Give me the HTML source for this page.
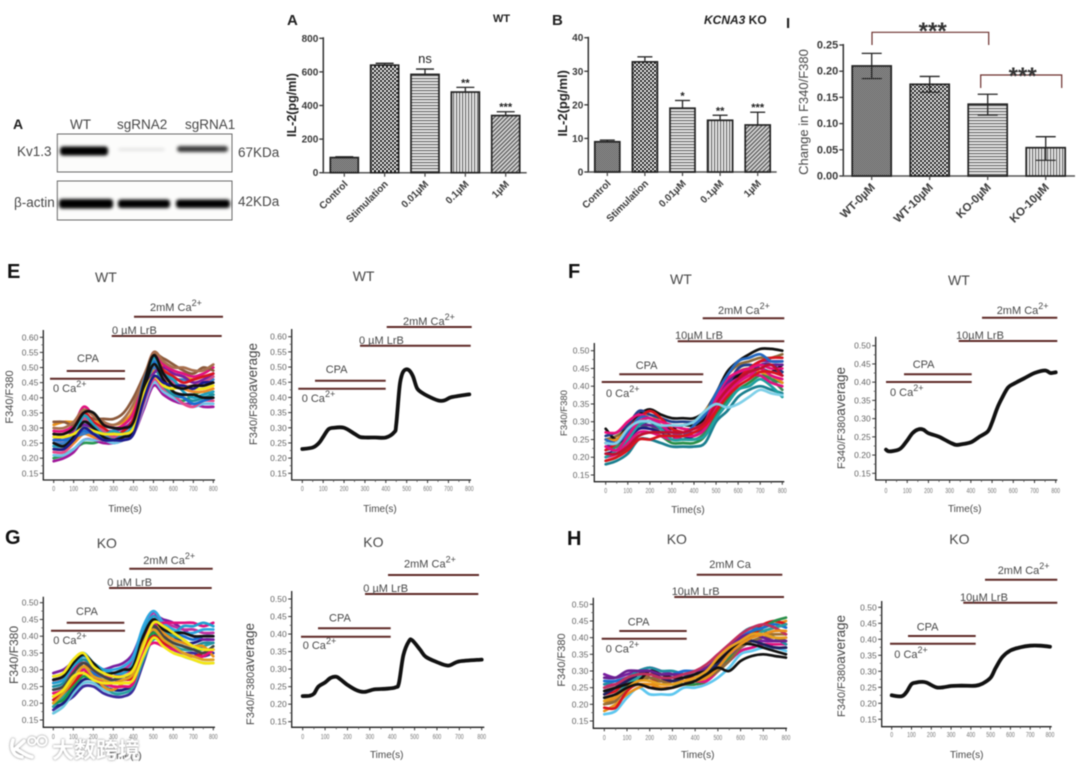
<!DOCTYPE html>
<html lang="en">
<head>
<meta charset="utf-8">
<title>Kv1.3 knockout IL-2 and calcium imaging figure</title>
<style>
html,body{margin:0;padding:0;background:#fff;width:1080px;height:768px;overflow:hidden}
#figure{display:block;width:1080px;height:768px;filter:blur(.65px);font-family:"Liberation Sans","Noto Sans CJK SC",sans-serif}
</style>
</head>
<body>
<svg id="figure" xmlns="http://www.w3.org/2000/svg" width="1080" height="768" viewBox="0 0 1080 768">
<defs>
<pattern id="p-dense" width="2" height="2" patternUnits="userSpaceOnUse"><rect width="2" height="2" fill="#b4b4b4"/><rect width="1" height="1" fill="#444"/><rect x="1" y="1" width="1" height="1" fill="#444"/></pattern>
<pattern id="p-check" width="4" height="4" patternUnits="userSpaceOnUse"><rect width="4" height="4" fill="#fff"/><rect width="2" height="2" fill="#111"/><rect x="2" y="2" width="2" height="2" fill="#111"/></pattern>
<pattern id="p-horiz" width="3" height="3" patternUnits="userSpaceOnUse"><rect width="3" height="3" fill="#eee"/><rect width="3" height="1.2" fill="#666"/></pattern>
<pattern id="p-vert" width="3" height="3" patternUnits="userSpaceOnUse"><rect width="3" height="3" fill="#f2f2f2"/><rect width="1.2" height="3" fill="#666"/></pattern>
<pattern id="p-diag" width="3" height="3" patternUnits="userSpaceOnUse" patternTransform="rotate(-45)"><rect width="3" height="3" fill="#ddd"/><rect width="3" height="1.3" fill="#555"/></pattern>
<filter id="band-blur" x="-20%" y="-100%" width="140%" height="300%"><feGaussianBlur stdDeviation="1.5"/></filter>
</defs>
</svg>
<script>
/* ---------- chart data ---------- */
const timeSeconds = [0,50,100,150,200,250,300,350,400,450,500,550,600,650,700,750,800];
const timeTicks = [0,100,200,300,400,500,600,700,800];
const ratioTicksTall = [0.15,0.20,0.25,0.30,0.35,0.40,0.45,0.50,0.55,0.60];
const ratioTicksShort = [0.15,0.20,0.25,0.30,0.35,0.40,0.45,0.50];

const tracesE = [
[.20,.21,.23,.25,.25,.26,.26,.27,.29,.40,.47,.43,.40,.39,.41,.42,.41],
[.19,.20,.22,.26,.26,.25,.25,.26,.28,.36,.44,.41,.39,.38,.38,.37,.37],
[.21,.21,.23,.26,.26,.26,.25,.26,.28,.37,.45,.42,.40,.38,.37,.38,.38],
[.22,.22,.25,.29,.27,.26,.26,.26,.28,.38,.46,.43,.41,.38,.37,.39,.39],
[.23,.23,.25,.28,.27,.27,.27,.28,.30,.42,.49,.46,.45,.43,.42,.42,.43],
[.24,.24,.26,.31,.29,.27,.26,.27,.29,.41,.50,.44,.41,.40,.39,.40,.41],
[.25,.25,.27,.28,.29,.28,.27,.29,.32,.44,.50,.47,.46,.46,.45,.44,.46],
[.31,.32,.32,.33,.33,.31,.31,.32,.36,.46,.54,.50,.48,.47,.46,.47,.47],
[.27,.26,.29,.31,.30,.29,.29,.30,.33,.42,.48,.50,.48,.47,.45,.46,.48],
[.29,.29,.31,.37,.34,.32,.30,.31,.35,.45,.55,.51,.49,.48,.47,.48,.50],
[.32,.32,.31,.34,.33,.33,.33,.35,.40,.47,.54,.53,.51,.49,.48,.50,.49],
[.30,.30,.32,.36,.34,.32,.31,.33,.38,.46,.55,.52,.50,.50,.49,.49,.51],
[.28,.28,.30,.35,.32,.30,.28,.29,.33,.44,.53,.49,.47,.45,.46,.47,.48],
[.26,.26,.28,.33,.31,.29,.27,.28,.30,.43,.52,.47,.45,.44,.44,.45,.47],
[.26,.26,.27,.29,.28,.27,.26,.28,.31,.45,.52,.46,.42,.40,.38,.39,.40],
[.24,.24,.27,.34,.31,.28,.29,.28,.31,.43,.53,.48,.46,.42,.40,.41,.42],
[.25,.24,.27,.32,.30,.27,.26,.27,.29,.42,.51,.46,.42,.41,.41,.40,.40],
[.27,.27,.28,.30,.29,.28,.28,.28,.30,.41,.47,.44,.43,.44,.43,.43,.44],
[.23,.23,.26,.30,.28,.26,.26,.26,.28,.39,.47,.45,.44,.44,.43,.45,.45],
[.28,.28,.30,.35,.35,.31,.30,.30,.32,.44,.54,.48,.44,.43,.44,.44,.45]
];
const tracesF = [
[.24,.25,.27,.30,.30,.29,.28,.27,.27,.29,.35,.40,.43,.45,.47,.47,.47],
[.25,.26,.28,.30,.30,.29,.29,.28,.28,.31,.38,.43,.46,.47,.48,.48,.49],
[.28,.25,.29,.32,.335,.32,.31,.31,.31,.33,.38,.44,.47,.49,.505,.505,.50],
[.18,.19,.21,.25,.25,.24,.23,.23,.23,.24,.30,.33,.37,.39,.40,.39,.38],
[.19,.20,.23,.26,.27,.26,.24,.24,.24,.26,.32,.36,.39,.41,.43,.42,.41],
[.22,.23,.26,.28,.29,.27,.27,.26,.25,.27,.33,.38,.41,.43,.44,.42,.39],
[.21,.22,.25,.28,.28,.27,.26,.25,.26,.28,.34,.39,.42,.44,.46,.46,.44],
[.25,.25,.28,.31,.32,.30,.29,.29,.30,.33,.37,.41,.44,.45,.44,.43,.41],
[.24,.24,.26,.29,.30,.28,.28,.29,.29,.31,.36,.41,.43,.44,.45,.44,.46],
[.26,.27,.29,.33,.32,.31,.30,.30,.30,.32,.36,.40,.45,.46,.45,.44,.44],
[.23,.24,.27,.29,.29,.28,.27,.27,.27,.29,.36,.41,.44,.45,.46,.46,.46],
[.22,.24,.28,.31,.33,.31,.28,.27,.26,.28,.33,.38,.42,.45,.47,.48,.48],
[.20,.21,.24,.27,.27,.26,.25,.26,.26,.28,.34,.38,.41,.43,.45,.43,.42],
[.27,.27,.30,.32,.31,.30,.29,.28,.28,.30,.37,.42,.44,.45,.46,.45,.45],
[.20,.22,.25,.29,.30,.28,.25,.25,.25,.26,.31,.35,.39,.40,.42,.40,.37],
[.25,.24,.27,.31,.31,.29,.27,.26,.29,.32,.38,.43,.47,.48,.49,.47,.47],
[.23,.22,.26,.30,.31,.29,.27,.27,.28,.30,.36,.40,.42,.43,.43,.41,.40],
[.19,.20,.22,.25,.25,.26,.26,.26,.27,.29,.33,.37,.40,.42,.44,.44,.43],
[.21,.21,.23,.26,.27,.27,.27,.27,.28,.30,.35,.39,.42,.44,.45,.46,.43],
[.24,.24,.28,.30,.30,.29,.29,.29,.30,.33,.35,.34,.35,.37,.39,.38,.375]
];
const tracesG = [
[.18,.20,.22,.25,.25,.23,.22,.22,.24,.32,.40,.39,.37,.35,.35,.34,.35],
[.17,.19,.23,.26,.26,.24,.23,.24,.26,.34,.41,.39,.36,.34,.33,.32,.32],
[.19,.20,.24,.27,.27,.25,.24,.24,.26,.35,.42,.41,.40,.38,.38,.39,.39],
[.19,.22,.26,.30,.28,.26,.23,.23,.25,.33,.39,.38,.37,.36,.36,.37,.38],
[.20,.21,.25,.28,.27,.26,.25,.25,.26,.36,.41,.39,.38,.37,.36,.36,.36],
[.21,.23,.26,.29,.28,.26,.26,.27,.28,.36,.40,.38,.36,.35,.34,.35,.36],
[.29,.30,.32,.31,.30,.30,.31,.32,.35,.42,.46,.45,.44,.42,.40,.39,.39],
[.27,.28,.31,.33,.31,.30,.29,.30,.33,.42,.47,.44,.43,.42,.42,.41,.41],
[.28,.29,.33,.35,.32,.30,.30,.31,.34,.43,.475,.44,.42,.41,.41,.42,.42],
[.25,.26,.30,.33,.31,.28,.27,.28,.30,.39,.44,.41,.40,.39,.37,.38,.38],
[.22,.24,.27,.31,.29,.25,.24,.26,.27,.37,.44,.41,.39,.38,.37,.37,.34],
[.24,.25,.28,.30,.29,.27,.27,.28,.30,.40,.45,.43,.41,.40,.39,.40,.40],
[.26,.27,.30,.32,.30,.28,.28,.29,.31,.40,.43,.44,.44,.44,.44,.43,.44],
[.26,.27,.31,.34,.32,.30,.29,.29,.32,.41,.46,.42,.41,.43,.43,.44,.43],
[.27,.28,.32,.345,.32,.29,.29,.30,.31,.40,.45,.42,.41,.41,.40,.40,.40],
[.24,.25,.29,.32,.30,.28,.27,.28,.29,.37,.43,.40,.38,.37,.36,.35,.37],
[.23,.24,.27,.30,.28,.26,.25,.25,.26,.35,.38,.37,.36,.35,.34,.34,.36],
[.20,.23,.27,.31,.28,.27,.26,.27,.29,.38,.42,.39,.37,.35,.34,.33,.33],
[.28,.29,.33,.35,.31,.29,.28,.28,.30,.37,.44,.43,.41,.39,.37,.36,.36],
[.22,.24,.28,.29,.27,.26,.26,.26,.27,.34,.395,.37,.35,.34,.33,.32,.32]
];
const tracesH = [
[.17,.18,.22,.25,.23,.23,.23,.25,.25,.26,.28,.31,.35,.36,.37,.37,.36],
[.18,.20,.23,.25,.26,.26,.26,.26,.26,.27,.30,.34,.38,.41,.43,.44,.45],
[.19,.19,.24,.26,.25,.25,.25,.26,.26,.27,.31,.35,.39,.42,.44,.45,.44],
[.24,.25,.27,.28,.27,.27,.26,.26,.26,.27,.30,.34,.38,.41,.43,.45,.46],
[.25,.26,.27,.28,.29,.28,.27,.27,.27,.28,.30,.33,.36,.37,.38,.37,.37],
[.29,.28,.29,.30,.31,.30,.29,.28,.29,.30,.32,.35,.37,.39,.39,.39,.40],
[.26,.26,.28,.29,.28,.28,.27,.27,.27,.27,.30,.33,.36,.37,.38,.38,.38],
[.26,.27,.28,.30,.31,.30,.30,.29,.28,.29,.33,.37,.41,.43,.42,.40,.38],
[.23,.24,.27,.29,.28,.27,.27,.28,.28,.29,.31,.35,.39,.41,.42,.43,.44],
[.27,.27,.28,.29,.30,.29,.29,.30,.30,.31,.33,.36,.40,.42,.43,.44,.43],
[.22,.23,.26,.28,.29,.28,.28,.28,.29,.29,.31,.35,.38,.40,.42,.43,.44],
[.20,.21,.25,.27,.28,.27,.26,.27,.27,.28,.30,.33,.37,.39,.40,.40,.39],
[.20,.22,.25,.27,.29,.28,.27,.27,.28,.29,.32,.36,.39,.40,.41,.41,.41],
[.23,.25,.27,.29,.30,.28,.27,.28,.29,.30,.32,.36,.39,.39,.38,.37,.37],
[.24,.25,.26,.27,.30,.29,.28,.28,.29,.31,.33,.36,.38,.38,.37,.36,.35],
[.28,.28,.30,.30,.30,.29,.29,.29,.30,.31,.34,.37,.40,.41,.40,.39,.39],
[.25,.26,.28,.29,.29,.28,.28,.29,.30,.32,.35,.38,.41,.43,.44,.43,.41],
[.21,.22,.25,.26,.26,.25,.25,.26,.27,.28,.31,.35,.38,.40,.41,.42,.42],
[.21,.23,.25,.27,.27,.26,.26,.27,.28,.30,.34,.37,.39,.41,.41,.40,.40],
[.22,.23,.25,.26,.25,.245,.25,.26,.27,.29,.31,.30,.33,.345,.35,.345,.34]
];

const averageEt = [0,50,80,100,125,150,200,250,275,300,350,400,440,450,465,475,490,510,530,550,575,600,650,680,710,750,800];
const averageEv = [.23,.235,.25,.27,.295,.30,.30,.28,.27,.268,.268,.268,.285,.31,.43,.47,.49,.49,.47,.43,.415,.405,.39,.39,.40,.405,.41];
const averageFt = [0,15,60,80,100,125,150,175,200,250,300,330,360,400,440,480,500,525,550,575,600,650,700,750,775,800];
const averageFv = [.215,.21,.215,.225,.24,.26,.27,.27,.26,.25,.235,.228,.23,.235,.25,.265,.29,.33,.36,.385,.395,.41,.425,.432,.425,.427];
const averageGt = [0,30,50,70,100,125,150,170,200,240,275,320,375,415,430,450,475,490,525,550,600,650,700,800];
const averageGv = [.223,.224,.23,.25,.262,.275,.278,.27,.255,.24,.235,.242,.244,.248,.26,.34,.38,.382,.355,.335,.32,.31,.322,.327];
const averageHt = [0,50,75,100,125,150,175,225,260,300,350,425,460,500,525,560,600,650,700,750,800];
const averageHv = [.225,.222,.235,.26,.265,.267,.265,.25,.25,.254,.255,.255,.262,.28,.31,.345,.365,.375,.38,.38,.377];

const doseCategories = ["Control","Stimulation","0.01\u00b5M","0.1\u00b5M","1\u00b5M"];
const il2WtValues = [90,640,585,480,340];
const il2WtErrorTops = [95,651,617,508,363];
const il2WtSignificance = ["","","ns","**","***"];
const il2WtTicks = [0,200,400,600,800];
const il2KoValues = [9,32.8,19,15.4,14];
const il2KoErrorTops = [9.5,34.3,21.3,16.9,17.8];
const il2KoSignificance = ["","","*","**","***"];
const il2KoTicks = [0,10,20,30,40];
const changeCategories = ["WT-0\u00b5M","WT-10\u00b5M","KO-0\u00b5M","KO-10\u00b5M"];
const changeValues = [0.21,0.175,0.137,0.054];
const changeErrorTops = [0.234,0.19,0.156,0.075];
const changeErrorBottoms = [0.186,0.16,0.116,0.03];
const changeTicks = [0,0.05,0.10,0.15,0.20,0.25];

/* ---------- styles and layout ---------- */
const colorsE = ["#2a9a52","#a0179a","#6fc3e8","#e8488a","#f08a2a","#1f8fa0","#3a7fc8","#e8901a","#7a1fa0","#e0127f","#8c5a3c","#a8704e","#d9141e","#d0508a","#1a6fd0","#20a0c0","#111111","#f5e616","#1b1b8c","#111111"];
const colorsF = ["#7a1fa0","#8c6a3a","#111111","#1a7f8f","#2a8f4a","#3a8a5a","#1c1c80","#e8901a","#111111","#20408a","#6a2090","#d9141e","#e0127f","#e8107a","#20a0a0","#2468c0","#e0127f","#d9141e","#c01030","#7fd0e8"];
const colorsG = ["#3a2a9c","#6cc8e0","#1c1c80","#2aa0a0","#1a9a4a","#d9141e","#7a1fa0","#c030a0","#2fa8e0","#1f8fa0","#e8901a","#1a6fd0","#e0127f","#20a0d0","#111111","#444444","#e8107a","#e0a020","#f5e616","#f5e616"];
const colorsH = ["#5ec7ef","#e8901a","#d9141e","#2a8f4a","#1c1c80","#7a1fa0","#e0127f","#1f8fa0","#d9141e","#1a6fd0","#2aa0a0","#8c6a3a","#a07030","#202060","#111111","#6a2090","#c03060","#e8901a","#e8a020","#111111"];
const TEXT = "#484848";
const BAR_RED = "#5f2a27";
const patternsDose = ["p-dense","p-check","p-horiz","p-vert","p-diag"];
const patternsChange = ["p-dense","p-check","p-horiz","p-vert"];

const layoutE1 = {axisX:43.3,axisBottom:480,axisTop:330,axisRight:215,x0:53.7,x800:213.3,yLow:473.3,yHigh:337.3,vHigh:.60,tickLabelY:491,
  timeX:125,timeY:512,titleY:{x:13,y:397,size:11},title:["WT",95,282,14],
  stim:[[134,223,316.7],[111.7,221.7,336],[66.7,125,371],[50,125,378.7]],
  notes:[["2mM Ca",150,311,"2+"],["0 \u00b5M LrB",112,334,""],["CPA",77,362,""],["0 Ca",53,392,"2+"]]};
const layoutE2 = {axisX:291.7,axisBottom:480,axisTop:329,axisRight:471,x0:302.3,x800:469.3,yLow:473.3,yHigh:336.7,vHigh:.60,tickLabelY:491,
  timeX:380,timeY:512,titleY:{x:257,y:394,size:11,extra:"average"},title:["WT",352.7,281,14],
  stim:[[386.7,471.7,327],[360,470.7,345.7],[315,385.7,380.7],[298.3,385.7,388.7]],
  notes:[["2mM Ca",403,325,"2+"],["0 \u00b5M LrB",359,344,""],["CPA",325.7,373,""],["0 Ca",301.7,402,"2+"]]};
const layoutF1 = {axisX:594.3,axisBottom:481.7,axisTop:343,axisRight:784.3,x0:605.7,x800:782.3,yLow:475,yHigh:350.7,vHigh:.50,tickLabelY:493,
  timeX:688,timeY:513,titleY:{x:567,y:413,size:9.5},title:["WT",670,284,14],
  stim:[[702.7,784.3,318.3],[677.7,784.3,341.3],[619.3,703.3,374.3],[601.7,702.3,382]],
  notes:[["2mM Ca",718,314,"2+"],["10\u00b5M LrB",675,339,""],["CPA",635.7,369,""],["0 Ca",606,397,"2+"]]};
const layoutF2 = {axisX:875.7,axisBottom:480,axisTop:336.7,axisRight:1057.3,x0:886,x800:1055.7,yLow:473.3,yHigh:345.7,vHigh:.50,tickLabelY:493,
  timeX:964.7,timeY:512,titleY:{x:845,y:418,size:11,extra:"average"},title:["WT",948,285,14],
  stim:[[982,1057.3,317.7],[958.7,1057.3,341],[904,971.7,374.3],[886,971.7,382]],
  notes:[["2mM Ca",996.7,314,"2+"],["10\u00b5M LrB",956,339,""],["CPA",912.7,368,""],["0 Ca",890,396,"2+"]]};
const layoutG1 = {axisX:43.3,axisBottom:727.3,axisTop:596.7,axisRight:215,x0:53.3,x800:213.3,yLow:720,yHigh:602.7,vHigh:.50,tickLabelY:739,
  timeX:125,timeY:759,titleY:{x:18,y:655,size:12},title:["KO",96.7,548,14],
  stim:[[129.3,212.7,568.7],[109,211.7,588],[66.7,124.3,622.7],[51,125,630.7]],
  notes:[["2mM Ca",143.3,564,"2+"],["0 \u00b5M LrB",107.3,586,""],["CPA",76,615,""],["0 Ca",53.3,644,"2+"]]};
const layoutG2 = {axisX:291.7,axisBottom:727.3,axisTop:591,axisRight:484.3,x0:302.7,x800:481.7,yLow:721.7,yHigh:599,vHigh:.50,tickLabelY:739,
  timeX:386.7,timeY:758,titleY:{x:254,y:674,size:11,extra:"average"},title:["KO",363.3,547,14],
  stim:[[388,479,575],[365,478.3,594],[318,390.7,628.3],[301,390.7,636.7]],
  notes:[["2mM Ca",404,567.7,"2+"],["0 \u00b5M LrB",363.3,592,""],["CPA",329,621.7,""],["0 Ca",302.7,649,"2+"]]};
const layoutH1 = {axisX:593.3,axisBottom:728.3,axisTop:597.7,axisRight:787,x0:604.3,x800:786,yLow:721,yHigh:604.3,vHigh:.50,tickLabelY:740,
  timeX:697.7,timeY:758,titleY:{x:565,y:660,size:11},title:["KO",666.7,544,14],
  stim:[[696.7,782.3,574.7],[674.3,784,597],[619.3,686.7,631],[601.7,686.7,638.7]],
  notes:[["2mM Ca",709.3,568,""],["10\u00b5M LrB",671.7,595,""],["CPA",627.7,625.7,""],["0 Ca",605.7,652.7,"2+"]]};
const layoutH2 = {axisX:881.7,axisBottom:726.7,axisTop:601,axisRight:1051.7,x0:891.7,x800:1050,yLow:719.3,yHigh:607.3,vHigh:.50,tickLabelY:737,
  timeX:966.7,timeY:758,titleY:{x:845,y:666,size:11,extra:"average"},title:["KO",949.3,544,14],
  stim:[[985,1057.3,579.7],[963.3,1057.3,602.7],[908,975.7,636],[890,975.7,643.7]],
  notes:[["2mM Ca",997.7,574,"2+"],["10\u00b5M LrB",960,601,""],["CPA",916.7,630.7,""],["0 Ca",894.3,658,"2+"]]};

const svg = document.getElementById("figure");
const NS = "http://www.w3.org/2000/svg";

function make(tag, props, parent) {
  const el = document.createElementNS(NS, tag);
  for (const k in props) el.setAttribute(k, props[k]);
  (parent || svg).appendChild(el);
  return el;
}
function group(name) {
  const g = make("g", {});
  
  
  return g;
}
function label(parent, str, x, y, size, name, extra) {
  const t = make("text", Object.assign({x:x, y:y, "font-size":size, fill:TEXT}, extra || {}), parent);
  t.textContent = str;
  
  
  return t;
}
function seg(parent, x1, y1, x2, y2, color, width, name) {
  const l = make("line", {x1:x1, y1:y1, x2:x2, y2:y2, stroke:color, "stroke-width":width}, parent);
  
  
  return l;
}
/* smooth path through the mapped data points */
function smoothPath(xv, yv) {
  let d = "M" + xv[0].toFixed(1) + " " + yv[0].toFixed(1);
  for (let i = 0; i < xv.length - 1; i++) {
    const a = Math.max(i - 1, 0), b = i + 1, c = Math.min(i + 2, xv.length - 1);
    const c1x = xv[i] + (xv[b] - xv[a]) / 6, c1y = yv[i] + (yv[b] - yv[a]) / 6;
    const c2x = xv[b] - (xv[c] - xv[i]) / 6, c2y = yv[b] - (yv[c] - yv[i]) / 6;
    d += " C" + c1x.toFixed(1) + " " + c1y.toFixed(1) + " " + c2x.toFixed(1) + " " + c2y.toFixed(1) + " " + xv[b].toFixed(1) + " " + yv[b].toFixed(1);
  }
  return d;
}

/* ---------- calcium trace panels ---------- */
function timeScale(p) { return t => p.x0 + t * (p.x800 - p.x0) / 800; }
function ratioScale(p) { return v => p.yLow + (v - .15) * (p.yHigh - p.yLow) / (p.vHigh - .15); }

function drawFrame(g, p, ratioTicks) {
  const xs = timeScale(p), ys = ratioScale(p);
  seg(g, p.axisX, p.axisTop, p.axisX, p.axisBottom, "#222", 1.3, "y-axis");
  seg(g, p.axisX - .6, p.axisBottom, p.axisRight, p.axisBottom, "#222", 1.3, "x-axis");
  ratioTicks.forEach(v => {
    seg(g, p.axisX - 3.5, ys(v), p.axisX, ys(v), "#333", 1, "y-tick");
    if (v < p.vHigh) seg(g, p.axisX - 2, ys(v + .025), p.axisX, ys(v + .025), "#555", .8, "y-minor-tick");
    label(g, v.toFixed(2), p.axisX - 5, ys(v) + 3, 8.5, "y-tick-label", {"text-anchor":"end", fill:"#666"});
  });
  timeTicks.forEach(t => {
    seg(g, xs(t), p.axisBottom, xs(t), p.axisBottom + 3, "#333", 1, "x-tick");
    if (t < 800) seg(g, xs(t + 50), p.axisBottom, xs(t + 50), p.axisBottom + 2, "#555", .8, "x-minor-tick");
    const s = String(t);
    label(g, s, xs(t), p.tickLabelY, 7, "x-tick-label", {"text-anchor":"middle", fill:"#777", textLength:2.9 * s.length, lengthAdjust:"spacingAndGlyphs"});
  });
  label(g, "Time(s)", p.timeX, p.timeY, 10, "x-axis-title", {"text-anchor":"middle"});
  const yt = label(g, "F340/F380", p.titleY.x, p.titleY.y, p.titleY.size, "y-axis-title", {"text-anchor":"middle", transform:"rotate(-90 " + p.titleY.x + " " + p.titleY.y + ")"});
  if (p.titleY.extra) {
    const sp = make("tspan", {"font-size":p.titleY.size + 2.5}, yt);
    sp.textContent = p.titleY.extra;
  }
  label(g, p.title[0], p.title[1], p.title[2], p.title[3], "panel-title");
}
function drawStimuli(g, p) {
  p.stim.forEach(s => {
    seg(g, s[0], s[2], s[1], s[2], BAR_RED, 2, "treatment-bar");
  });
  p.notes.forEach(n => {
    const t = label(g, n[0], n[1], n[2], 11, "treatment-label");
    if (n[3]) {
      const sup = make("tspan", {dy:-5, "font-size":9}, t);
      sup.textContent = n[3];
    }
  });
}
function drawTraces(name, p, ratioTicks, traces, colors) {
  const g = group(name);
  const xs = timeScale(p), ys = ratioScale(p);
  drawFrame(g, p, ratioTicks);
  const xv = timeSeconds.map(xs);
  traces.forEach((series, i) => {
    const line = make("path", {d:smoothPath(xv, series.map(ys)), fill:"none", stroke:colors[i % colors.length], "stroke-width":2.7, "stroke-linejoin":"round", "stroke-linecap":"round"}, g);
    
    
  });
  drawStimuli(g, p);
}
function drawAverage(name, p, ratioTicks, times, values) {
  const g = group(name);
  const xs = timeScale(p), ys = ratioScale(p);
  drawFrame(g, p, ratioTicks);
  const line = make("path", {d:smoothPath(times.map(xs), values.map(ys)), fill:"none", stroke:"#111", "stroke-width":3.8, "stroke-linejoin":"round", "stroke-linecap":"round"}, g);
  
  
  drawStimuli(g, p);
}

drawTraces("panel-e-traces", layoutE1, ratioTicksTall, tracesE, colorsE);
drawAverage("panel-e-average", layoutE2, ratioTicksTall, averageEt, averageEv);
drawTraces("panel-f-traces", layoutF1, ratioTicksShort, tracesF, colorsF);
drawAverage("panel-f-average", layoutF2, ratioTicksShort, averageFt, averageFv);
drawTraces("panel-g-traces", layoutG1, ratioTicksShort, tracesG, colorsG);
drawAverage("panel-g-average", layoutG2, ratioTicksShort, averageGt, averageGv);
drawTraces("panel-h-traces", layoutH1, ratioTicksShort, tracesH, colorsH);
drawAverage("panel-h-average", layoutH2, ratioTicksShort, averageHt, averageHv);

/* ---------- bar charts ---------- */
function drawBars(name, c, cats, values, tops, bottoms, ticks, sig, patterns) {
  const g = group(name);
  const ys = v => c.y0 + v * (c.yTop - c.y0) / c.vTop;
  const xs = i => c.first + i * c.step;
  seg(g, c.axisX, c.yTop - 1, c.axisX, c.y0, "#333", 1.5, "y-axis");
  seg(g, c.axisX - .7, c.y0, c.right, c.y0, "#555", 1.5, "x-axis");
  ticks.forEach(v => {
    seg(g, c.axisX - 4, ys(v), c.axisX, ys(v), "#333", 1.3, "y-tick");
    label(g, v.toFixed(c.decimals), c.axisX - 5, ys(v) + 3.5, c.tickSize, "y-tick-label", {"text-anchor":"end", "font-weight":"bold", fill:"#3a3a3a"});
  });
  values.forEach((v, i) => {
    const x = xs(i);
    const errTop = ys(tops[i]);
    const errLow = bottoms ? ys(bottoms[i]) : ys(v);
    const rect = make("rect", {x:x - c.barW / 2, y:ys(v), width:c.barW, height:c.y0 - ys(v), fill:"url(#" + patterns[i] + ")", stroke:"#222", "stroke-width":1.7}, g);
    
    
    seg(g, x, errTop, x, errLow, "#222", 1.3, "error-bar-stem");
    seg(g, x - c.cap / 2, errTop, x + c.cap / 2, errTop, "#222", 1.3, "error-bar-cap");
    if (bottoms) seg(g, x - c.cap / 2, errLow, x + c.cap / 2, errLow, "#222", 1.1, "error-bar-cap");
    seg(g, x, c.y0, x, c.y0 + 4, "#444", 1.2, "x-tick");
    const lx = x + 4, ly = c.y0 + 12;
    label(g, cats[i], lx, ly, c.catSize, "category-label", {"text-anchor":"end", "font-weight":"bold", fill:"#3a3a3a", transform:"rotate(-45 " + lx + " " + ly + ")"});
    if (sig && sig[i]) {
      const stars = sig[i].indexOf("*") >= 0;
      label(g, sig[i], x, errTop - (stars ? 1 : 6), stars ? 11 : 13, "significance-label", {"text-anchor":"middle", "font-weight":stars ? "bold" : "normal", fill:"#222"});
    }
  });
  return g;
}

const chartIl2Wt = {axisX:323.3,right:526.7,y0:172.7,yTop:38.3,vTop:800,first:344.3,step:40.35,barW:28,cap:18,tickSize:10,catSize:10,decimals:0};
const chartIl2Ko = {axisX:588.3,right:776.7,y0:172,yTop:37.7,vTop:40,first:607.3,step:37.6,barW:25,cap:15,tickSize:10,catSize:10,decimals:0};
const chartChange = {axisX:843.3,right:1075,y0:176,yTop:45,vTop:.25,first:871.7,step:58,barW:39,cap:20,tickSize:11,catSize:11.5,decimals:2};

const gA = drawBars("il2-wt-bar-chart", chartIl2Wt, doseCategories, il2WtValues, il2WtErrorTops, null, il2WtTicks, il2WtSignificance, patternsDose);
label(gA, "A", 287, 25, 15, "panel-letter", {"font-weight":"bold", fill:"#222"});
label(gA, "WT", 493, 22, 11, "chart-title", {"font-weight":"bold", fill:"#222"});
label(gA, "IL-2(pg/ml)", 296, 105, 12.5, "y-axis-title", {"text-anchor":"middle", "font-weight":"bold", fill:"#222", transform:"rotate(-90 296 105)"});

const gB = drawBars("il2-ko-bar-chart", chartIl2Ko, doseCategories, il2KoValues, il2KoErrorTops, null, il2KoTicks, il2KoSignificance, patternsDose);
label(gB, "B", 552, 25, 15, "panel-letter", {"font-weight":"bold", fill:"#222"});
const koTitle = label(gB, "KCNA3", 704, 24, 12, "chart-title", {"font-weight":"bold", "font-style":"italic", fill:"#222"});
const koSuffix = make("tspan", {"font-style":"normal"}, koTitle);
koSuffix.textContent = " KO";
label(gB, "IL-2(pg/ml)", 567, 103.3, 13, "y-axis-title", {"text-anchor":"middle", "font-weight":"bold", fill:"#222", transform:"rotate(-90 567 103.3)"});

const gI = drawBars("change-ratio-bar-chart", chartChange, changeCategories, changeValues, changeErrorTops, changeErrorBottoms, changeTicks, null, patternsChange);
label(gI, "I", 786, 28, 15, "panel-letter", {"font-weight":"bold", fill:"#222"});
label(gI, "Change in F340/F380", 808, 112, 13, "y-axis-title", {"text-anchor":"middle", transform:"rotate(-90 808 112)"});
const bracket1 = make("polyline", {points:"872,45 872,32.3 988.7,32.3 988.7,45", fill:"none", stroke:"#6b2f2c", "stroke-width":1.2}, gI);


const bracket2 = make("polyline", {points:"980.7,88 980.7,75 1061.7,75 1061.7,88", fill:"none", stroke:"#6b2f2c", "stroke-width":1.2}, gI);


label(gI, "***", 932.7, 39, 24, "significance-label", {"text-anchor":"middle", "font-weight":"bold", fill:"#333"});
label(gI, "***", 1022.7, 84, 24, "significance-label", {"text-anchor":"middle", "font-weight":"bold", fill:"#333"});

/* ---------- panel letters ---------- */
const gLetters = group("panel-letters");
[["E",7,278],["F",568,278],["G",5,544],["H",567,545]].forEach(l => {
  label(gLetters, l[0], l[1], l[2], 20, "panel-letter", {"font-weight":"bold", fill:"#111"});
});

/* ---------- western blot ---------- */
const gBlot = group("western-blot");
const blotBoxes = [[57.3,134,174.7,38],[57.3,181,174.7,39]];
blotBoxes.forEach(b => {
  const r = make("rect", {x:b[0], y:b[1], width:b[2], height:b[3], fill:"#fcfcfb", stroke:"#6a6a6a", "stroke-width":1}, gBlot);
  
  
});
const blotBands = [[60,146.5,48,9,"#000"],[118,148,47,3,"#e4e4e4"],[177,146,51,6,"#3a3a3a"],[59,199,54,9.5,"#000"],[118,199.5,52,8.5,"#050505"],[176,199.5,54,8.5,"#050505"]];
blotBands.forEach(b => {
  const r = make("rect", {x:b[0], y:b[1], width:b[2], height:b[3], rx:3, fill:b[4], filter:"url(#band-blur)"}, gBlot);
  
  
});
label(gBlot, "A", 13, 129, 14, "panel-letter", {"font-weight":"bold", fill:"#222"});
label(gBlot, "WT", 70, 129, 13.5, "lane-label");
label(gBlot, "sgRNA2", 117, 129, 13.5, "lane-label");
label(gBlot, "sgRNA1", 185, 129, 13.5, "lane-label");
label(gBlot, "Kv1.3", 17, 156, 13.5, "protein-label");
label(gBlot, "\u03b2-actin", 14, 207, 13.5, "protein-label");
label(gBlot, "67KDa", 238, 157, 13.5, "size-label");
label(gBlot, "42KDa", 238, 206, 13.5, "size-label");

/* ---------- watermark ---------- */
const gMark = group("watermark");
gMark.setAttribute("style", "filter:drop-shadow(0 0 1px #777)");
const markPath = make("path", {d:"M13 740 C10 748 13 756 22 757 M14 750 L24 741 M16 749 C22 752 26 756 32 757", fill:"none", stroke:"#fff", "stroke-width":3.6, "stroke-linecap":"round"}, gMark);


[[32,741,3.8],[42,741,4.6]].forEach(c => {
  const o = make("circle", {cx:c[0], cy:c[1], r:c[2], fill:"none", stroke:"#fff", "stroke-width":2}, gMark);
  
  
});
label(gMark, "\u5927\u6570\u8de8\u5883", 52, 758, 22, "watermark-text", {fill:"#fff", "font-weight":"bold", "font-family":"\"Noto Sans CJK SC\",sans-serif"});
</script>
</body>
</html>
